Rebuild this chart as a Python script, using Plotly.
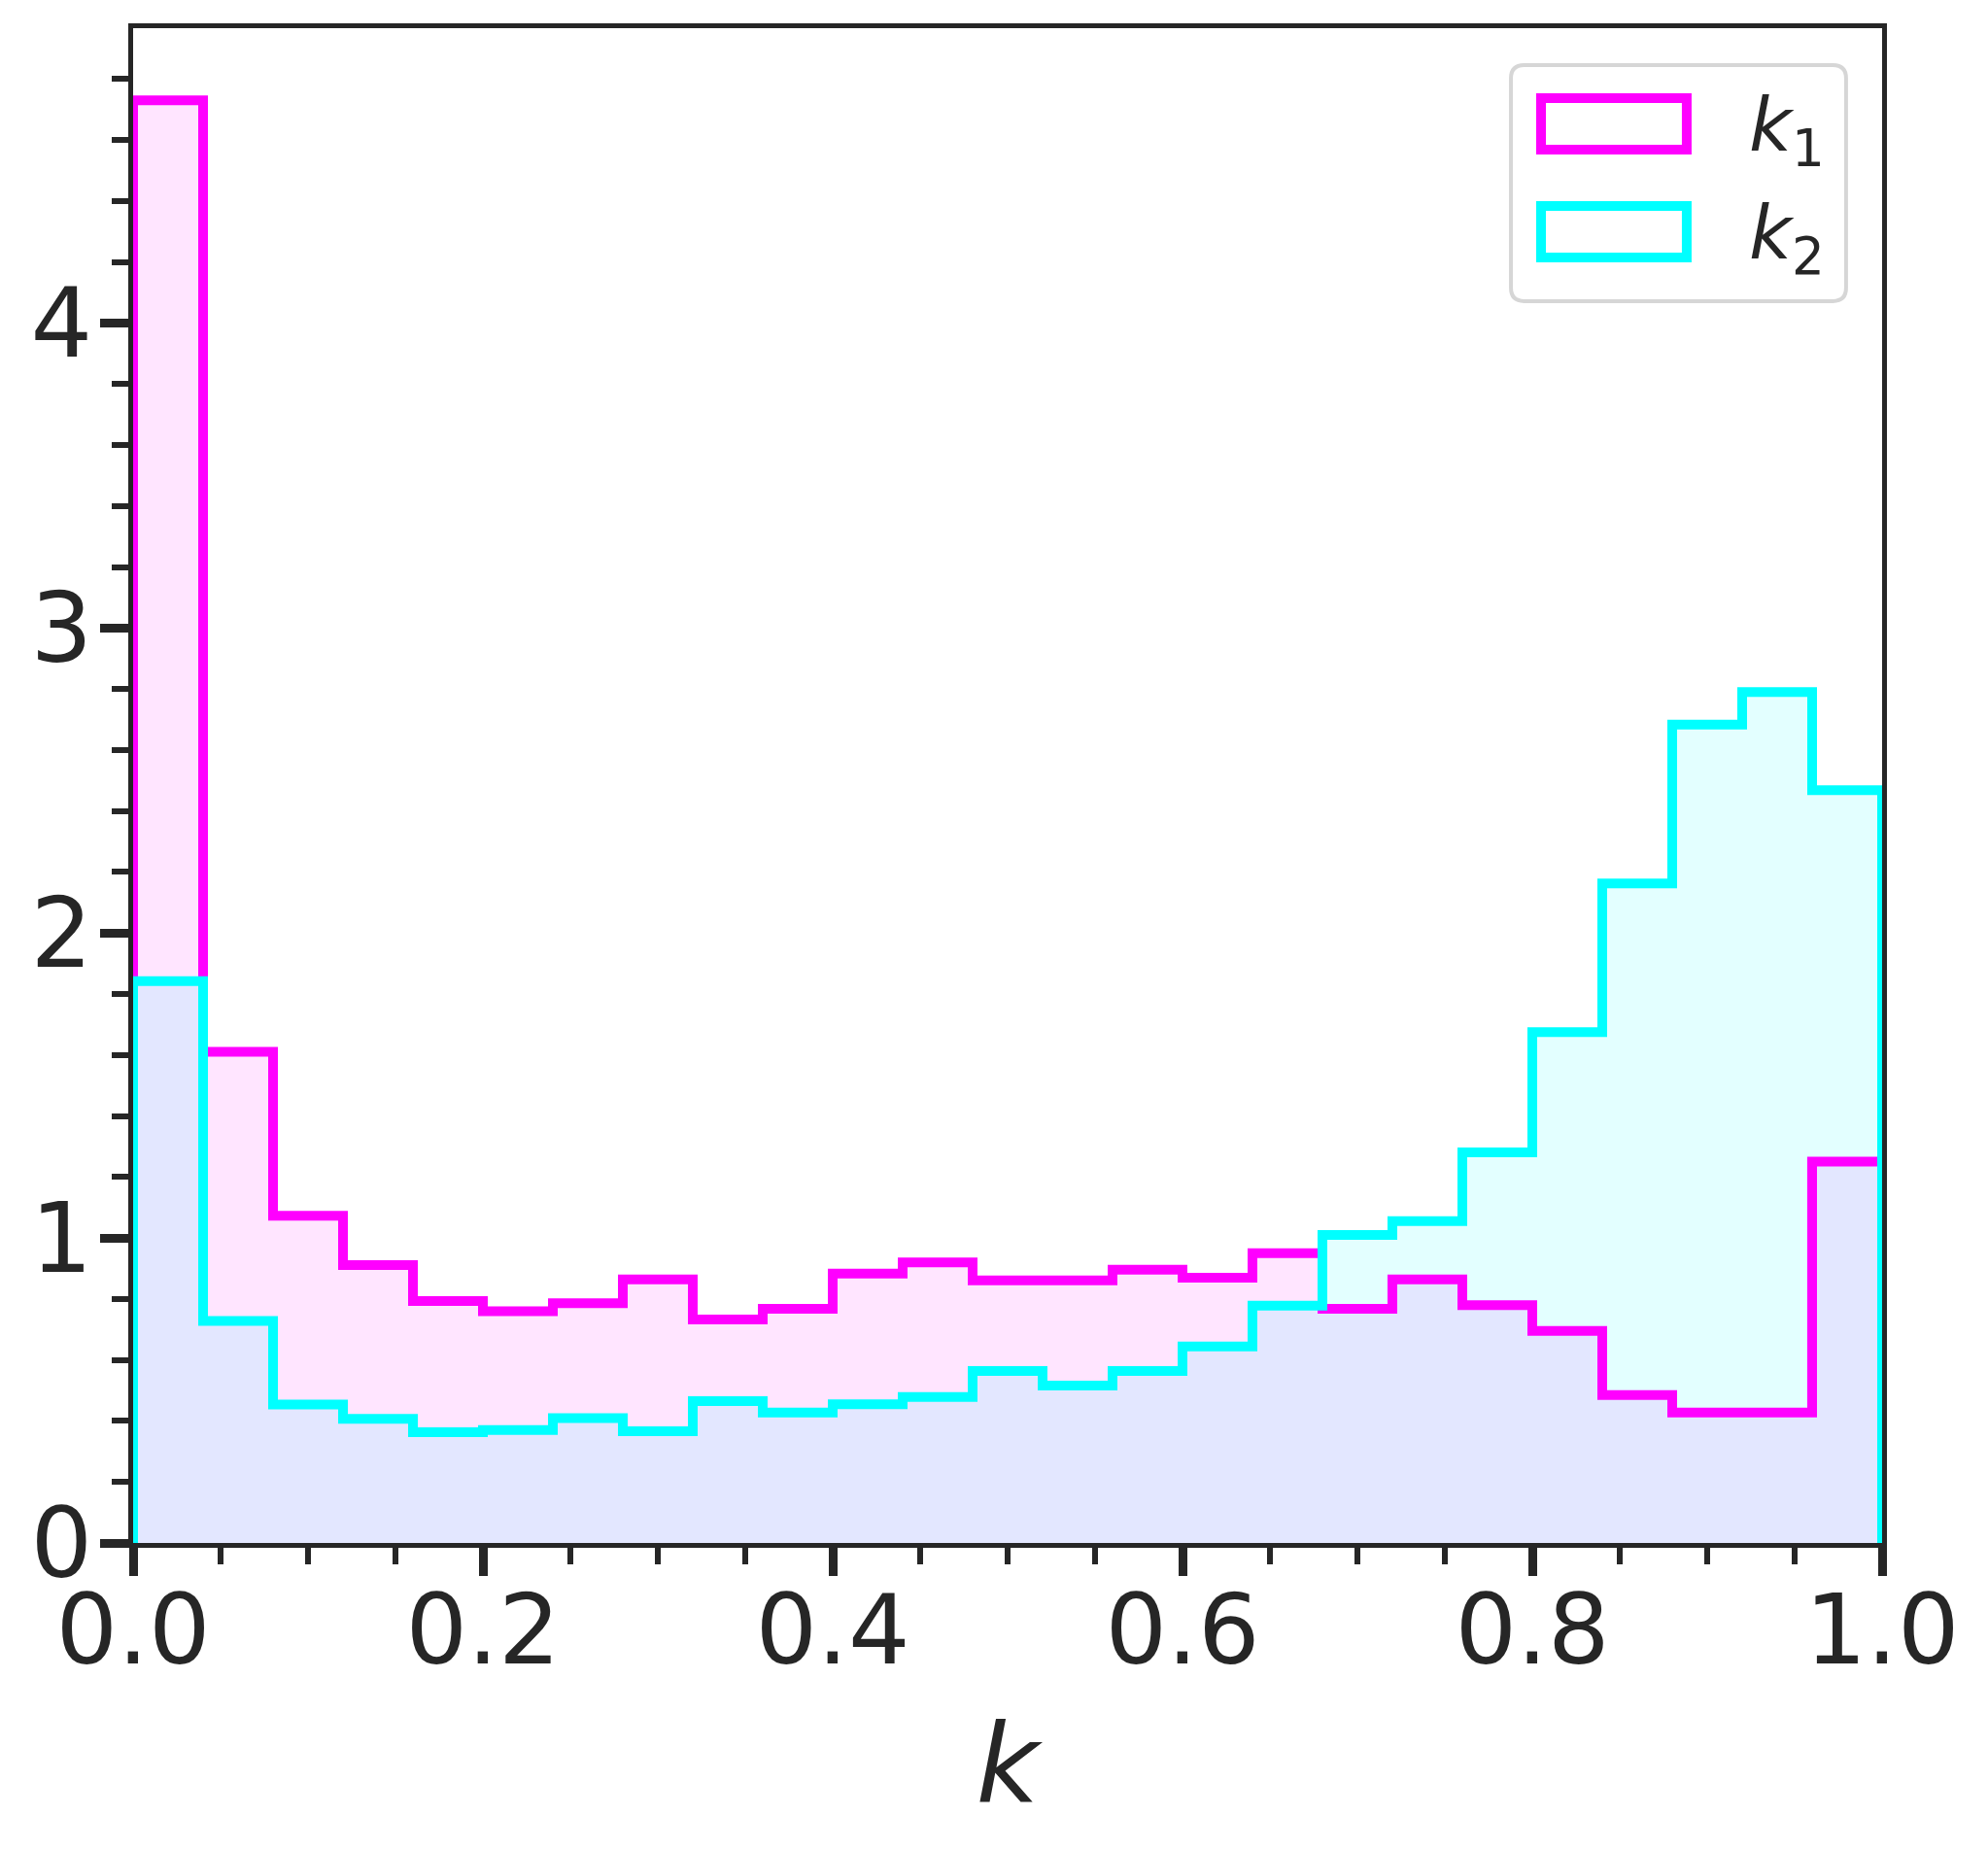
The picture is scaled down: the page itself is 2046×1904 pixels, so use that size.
import plotly.graph_objects as go

# ---- data ----
bin_edges = [0.00, 0.04, 0.08, 0.12, 0.16, 0.20, 0.24, 0.28, 0.32, 0.36, 0.40,
             0.44, 0.48, 0.52, 0.56, 0.60, 0.64, 0.68, 0.72, 0.76, 0.80,
             0.84, 0.88, 0.92, 0.96, 1.00]
k1_density = [4.73, 1.61, 1.073, 0.911, 0.793, 0.760, 0.786, 0.864, 0.733, 0.768,
              0.883, 0.920, 0.861, 0.861, 0.896, 0.870, 0.950, 0.768, 0.864, 0.780,
              0.695, 0.485, 0.428, 0.428, 1.250]
k2_density = [1.842, 0.728, 0.454, 0.407, 0.363, 0.370, 0.409, 0.366, 0.465, 0.428,
              0.455, 0.479, 0.564, 0.516, 0.564, 0.644, 0.778, 1.010, 1.055, 1.281,
              1.675, 2.162, 2.683, 2.790, 2.468]
series_names = ["<i>k</i><sub>1</sub>", "<i>k</i><sub>2</sub>"]
x_ticks = [0.0, 0.2, 0.4, 0.6, 0.8, 1.0]
y_ticks = [0, 1, 2, 3, 4]

MAG = "#FF00FF"
CYA = "#00FFFF"
AX = "#262626"
FONT = "DejaVu Sans"


def step_xy(edges, vals):
    xs = [edges[0]] + list(edges[:-1]) + [edges[-1], edges[-1]]
    ys = [0] + list(vals) + [vals[-1], 0]
    return xs, ys


fig = go.Figure()
x1, y1 = step_xy(bin_edges, k1_density)
x2, y2 = step_xy(bin_edges, k2_density)

# fills
fig.add_trace(go.Scatter(x=x1, y=y1, mode="lines", line=dict(width=0, shape="hv"),
                         fill="tozeroy", fillcolor="rgba(255,0,255,0.10)",
                         showlegend=False, hoverinfo="skip"))
fig.add_trace(go.Scatter(x=x2, y=y2, mode="lines", line=dict(width=0, shape="hv"),
                         fill="tozeroy", fillcolor="rgba(0,255,255,0.11)",
                         showlegend=False, hoverinfo="skip"))
# outlines
fig.add_trace(go.Scatter(x=x1, y=y1, mode="lines", line=dict(width=10, color=MAG, shape="hv"),
                         showlegend=False, hoverinfo="skip"))
fig.add_trace(go.Scatter(x=x2, y=y2, mode="lines", line=dict(width=10, color=CYA, shape="hv"),
                         showlegend=False, hoverinfo="skip"))

ymax = max(max(k1_density), max(k2_density)) * 1.05

axis_common = dict(
    showline=True, linecolor=AX, linewidth=5, mirror=True,
    showgrid=False, zeroline=False,
    ticks="outside", ticklen=29, tickwidth=9, tickcolor=AX,
    tickfont=dict(family=FONT, size=100, color=AX),
)
fig.update_xaxes(range=[0, 1], tickvals=x_ticks, ticktext=[f"{v:.1f}" for v in x_ticks],
                 minor=dict(dtick=0.05, ticks="outside", ticklen=17, tickwidth=6, tickcolor=AX),
                 ticklabelstandoff=-30,
                 title=dict(text="<i>k</i>", font=dict(family=FONT, size=112, color=AX), standoff=42),
                 **axis_common)
fig.update_yaxes(range=[0, ymax], tickvals=y_ticks, ticktext=[str(v) for v in y_ticks],
                 minor=dict(dtick=0.2, ticks="outside", ticklen=17, tickwidth=6, tickcolor=AX),
                 ticklabelstandoff=-12,
                 **axis_common)

# ---- custom legend (paper coordinates) ----
def rounded_rect(x0, y0, x1, y1, rx, ry):
    return (f"M {x0+rx},{y0} L {x1-rx},{y0} Q {x1},{y0} {x1},{y0+ry} "
            f"L {x1},{y1-ry} Q {x1},{y1} {x1-rx},{y1} L {x0+rx},{y1} "
            f"Q {x0},{y1} {x0},{y1-ry} L {x0},{y0+ry} Q {x0},{y0} {x0+rx},{y0} Z")

shapes = [dict(type="path", xref="paper", yref="paper",
               path=rounded_rect(0.7878, 0.8198, 0.9794, 0.9756, 0.0075, 0.0087),
               line=dict(color="#D6D6D6", width=4), fillcolor="rgba(255,255,255,0.8)", layer="above")]
legend_rows = [(0.9538, 0.9198, MAG), (0.8826, 0.8486, CYA)]
annotations = []
for (ya, yb, col), name in zip(legend_rows, series_names):
    shapes.append(dict(type="rect", xref="paper", yref="paper", x0=0.8050, x1=0.8883,
                       y0=yb, y1=ya, line=dict(color=col, width=10), fillcolor="white", layer="above"))
    annotations.append(dict(xref="paper", yref="paper", x=0.9230, y=(ya + yb) / 2 - 0.004,
                            xanchor="left", yanchor="middle", showarrow=False, text=name,
                            font=dict(family=FONT, size=76, color=AX)))

fig.update_layout(
    width=2046, height=1904,
    margin=dict(l=129, r=117, t=21, b=324),
    paper_bgcolor="white", plot_bgcolor="white",
    shapes=shapes, annotations=annotations,
    showlegend=False, hovermode=False,
)

fig.write_html("out.html")
